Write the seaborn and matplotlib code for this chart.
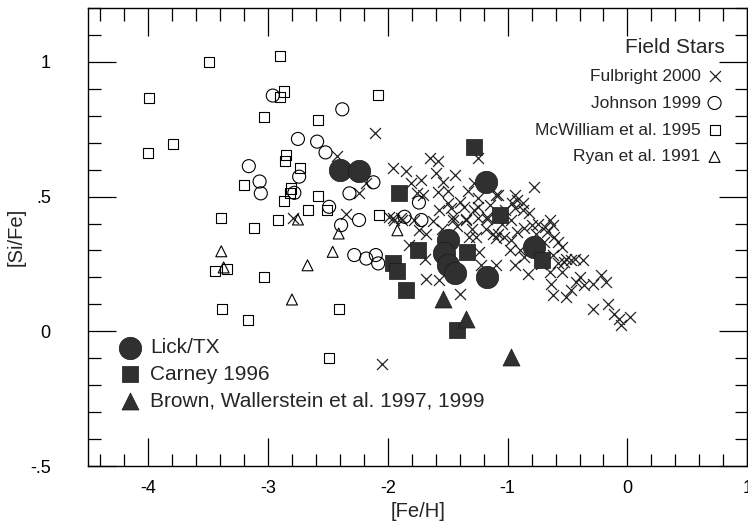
import numpy as np
import pandas as pd
import matplotlib
matplotlib.use("Agg")
import matplotlib.pyplot as plt
import seaborn as sns
from matplotlib.ticker import MultipleLocator, FixedLocator

# ── field stars (open symbols)
fulbright_feh = [-2.11, -2.42, -2.18, -2.24, -2.35, -2.79, -2.05,
                 -1.96, -1.85, -1.65, -1.58, -1.60, -1.54, -1.25, -1.28, -1.10, -1.81, -1.76,
                 -1.71, -1.58, -1.50, -1.47, -1.57, -1.25, -1.25, -1.28, -1.17, -1.96, -1.89,
                 -1.46, -1.35, -1.99, -1.95, -1.88, -1.78, -1.74, -1.68, -1.46, -1.35, -1.25,
                 -1.17, -1.32, -1.26, -1.12, -1.10, -1.82, -1.24, -1.68, -1.57, -1.40, -1.69,
                 -1.22, -0.78, -1.08, -0.94, -0.92, -0.87, -0.96, -0.94, -0.87, -0.97, -1.08,
                 -1.03, -0.97, -0.92, -0.86, -0.80, -0.75, -0.69, -0.65, -0.62, -0.67, -0.61,
                 -0.58, -0.55, -0.51, -0.44, -0.37, -1.10, -0.94, -0.83, -0.86, -0.62, -0.58,
                 -0.53, -0.47, -0.64, -0.62, -0.51, -0.47, -0.43, -0.40, -0.36, -0.29, -0.22,
                 -0.18, -0.29, -0.16, -0.11, -0.07, -0.05, 0.02, -1.62, -1.55, -1.42, -1.30,
                 -1.50, -1.40, -1.36, -1.18, -1.05, -0.98, -0.90, -0.70, -0.72, -0.65, -0.55,
                 -1.02, -1.72, -1.44, -1.33, -1.15, -0.82, -0.76]
fulbright_sife = [0.735, 0.650, 0.549, 0.512, 0.435, 0.421, -0.120,
                  0.605, 0.595, 0.644, 0.633, 0.586, 0.555, 0.642, 0.549, 0.506, 0.549, 0.512,
                  0.506, 0.518, 0.475, 0.456, 0.450, 0.493, 0.462, 0.450, 0.425, 0.419, 0.419,
                  0.425, 0.415, 0.425, 0.413, 0.413, 0.413, 0.375, 0.363, 0.413, 0.413, 0.419,
                  0.416, 0.350, 0.350, 0.363, 0.345, 0.320, 0.295, 0.196, 0.190, 0.140, 0.270,
                  0.245, 0.536, 0.506, 0.506, 0.487, 0.475, 0.475, 0.456, 0.450, 0.413, 0.363,
                  0.350, 0.338, 0.369, 0.382, 0.394, 0.400, 0.388, 0.413, 0.394, 0.369, 0.350,
                  0.332, 0.313, 0.270, 0.270, 0.266, 0.245, 0.245, 0.214, 0.276, 0.283, 0.252,
                  0.258, 0.264, 0.177, 0.134, 0.128, 0.152, 0.183, 0.202, 0.171, 0.177, 0.208,
                  0.183, 0.084, 0.103, 0.066, 0.047, 0.022, 0.053, 0.410, 0.380, 0.390, 0.380,
                  0.520, 0.480, 0.460, 0.380, 0.400, 0.300, 0.300, 0.330, 0.250, 0.220, 0.220,
                  0.450, 0.560, 0.580, 0.520, 0.470, 0.440, 0.360]

johnson_feh = [-2.96, -2.75, -3.16, -3.07, -2.74, -3.06, -2.78, -2.38, -2.59, -2.52,
               -2.12, -2.32, -2.49, -2.39, -2.24, -1.74, -1.86, -1.72, -2.28, -2.18,
               -2.10, -2.08]
johnson_sife = [0.875, 0.714, 0.613, 0.556, 0.574, 0.512, 0.514, 0.824, 0.704, 0.664,
                0.553, 0.512, 0.462, 0.394, 0.413, 0.478, 0.425, 0.413, 0.283, 0.270,
                0.283, 0.252]

mcwilliam_feh = [-3.49, -2.90, -3.99, -2.87, -2.90, -3.03, -3.79, -4.00, -2.85, -2.86,
                 -2.73, -3.20, -2.81, -2.82, -2.87, -2.67, -3.39, -2.92, -3.12, -3.44,
                 -3.34, -3.03, -3.38, -3.17, -2.08, -2.58, -2.58, -2.51, -2.07, -2.41,
                 -2.49]
mcwilliam_sife = [1.000, 1.020, 0.865, 0.890, 0.870, 0.794, 0.694, 0.663, 0.654, 0.633,
                  0.605, 0.543, 0.530, 0.512, 0.483, 0.452, 0.421, 0.413, 0.382, 0.223,
                  0.232, 0.202, 0.082, 0.041, 0.877, 0.784, 0.502, 0.452, 0.431, 0.082,
                  -0.100]

ryan_feh = [-2.75, -3.39, -2.67, -3.37, -2.80, -2.41, -2.46, -1.92]
ryan_sife = [0.415, 0.297, 0.245, 0.237, 0.118, 0.363, 0.295, 0.375]

# ── cluster / program stars (filled symbols)
lick_feh = [-2.40, -2.24, -1.18, -1.50, -1.53, -1.50, -1.44, -1.17, -0.78]
lick_sife = [0.600, 0.595, 0.555, 0.340, 0.290, 0.245, 0.215, 0.200, 0.313]

carney_feh = [-1.28, -1.91, -1.06, -1.75, -1.34, -1.96, -1.92, -1.85, -1.42, -0.71]
carney_sife = [0.685, 0.514, 0.431, 0.302, 0.295, 0.252, 0.222, 0.152, 0.005, 0.264]

brown_feh = [-1.54, -1.35, -0.97]
brown_sife = [0.120, 0.047, -0.097]

xticks = [-4, -3, -2, -1, 0, 1]
yticks = [-0.5, 0, 0.5, 1]
ytick_labels = ["-.5", "0", ".5", "1"]


sns.set_style("ticks")
plt.rcParams['font.family'] = ['Liberation Sans', 'DejaVu Sans']

fig = plt.figure(figsize=(7.48, 5.32), dpi=100)
ax = fig.add_axes([0.118, 0.124, 0.881, 0.861])

open_kw = dict(facecolor='none', edgecolor='black', linewidth=0.8)
fill_kw = dict(color='#303030', edgecolor='#1a1a1a', linewidth=0.5)

sns.scatterplot(x=fulbright_feh, y=fulbright_sife, marker='x', s=62,
                color='#222222', linewidth=0.9, ax=ax, label='Fulbright 2000', zorder=2)
sns.scatterplot(x=johnson_feh, y=johnson_sife, marker='o', s=88, ax=ax,
                label='Johnson 1999', zorder=3, **open_kw)
sns.scatterplot(x=mcwilliam_feh, y=mcwilliam_sife, marker='s', s=52, ax=ax,
                label='McWilliam et al. 1995', zorder=3, **open_kw)
sns.scatterplot(x=ryan_feh, y=ryan_sife, marker='^', s=62, ax=ax,
                label='Ryan et al. 1991', zorder=3, **open_kw)

sns.scatterplot(x=lick_feh, y=lick_sife, marker='o', s=260, ax=ax,
                label='Lick/TX', zorder=4, **fill_kw)
sns.scatterplot(x=carney_feh, y=carney_sife, marker='s', s=120, ax=ax,
                label='Carney 1996', zorder=4, **fill_kw)
sns.scatterplot(x=brown_feh, y=brown_sife, marker='^', s=150, ax=ax,
                label='Brown, Wallerstein et al. 1997, 1999', zorder=4, **fill_kw)

handles, labels = ax.get_legend_handles_labels()
if ax.get_legend():
    ax.get_legend().remove()

# field-star key, right aligned with symbol after the text
field = ax.legend(handles[:4], labels[:4], title='Field Stars', loc='upper right',
                  bbox_to_anchor=(0.982, 0.958), frameon=False, markerfirst=False,
                  fontsize=12.5, title_fontsize=15, labelspacing=0.68,
                  handletextpad=0.2, handlelength=1.2, markerscale=1.0,
                  borderaxespad=0.2)
field._legend_box.align = "right"
ax.add_artist(field)

ax.legend(handles[4:], labels[4:], loc='lower left', bbox_to_anchor=(0.028, 0.095),
          frameon=False, fontsize=15, labelspacing=0.35, handletextpad=0.5,
          handlelength=1.0, borderaxespad=0.2)

ax.set_xlim(-4.5, 1.0)
ax.set_ylim(-0.5, 1.2)
ax.xaxis.set_major_locator(FixedLocator(xticks))
ax.xaxis.set_minor_locator(MultipleLocator(0.2))
ax.yaxis.set_major_locator(FixedLocator(yticks))
ax.yaxis.set_minor_locator(MultipleLocator(0.1))
ax.set_xticklabels([str(t) for t in xticks])
ax.set_yticklabels(ytick_labels)

ax.tick_params(which='both', direction='in', top=True, right=True,
               labelsize=13, width=0.9, colors='black')
ax.tick_params(which='major', length=20)
ax.tick_params(which='minor', length=9)
ax.tick_params(axis='x', pad=10)
ax.tick_params(axis='y', pad=27)
for s in ax.spines.values():
    s.set_linewidth(1.0)
    s.set_color('black')

ax.set_xlabel('[Fe/H]', fontsize=14.5, labelpad=4)
ax.set_ylabel('[Si/Fe]', fontsize=14.5, labelpad=3)

fig.savefig('out.png', dpi=100, facecolor='white')
